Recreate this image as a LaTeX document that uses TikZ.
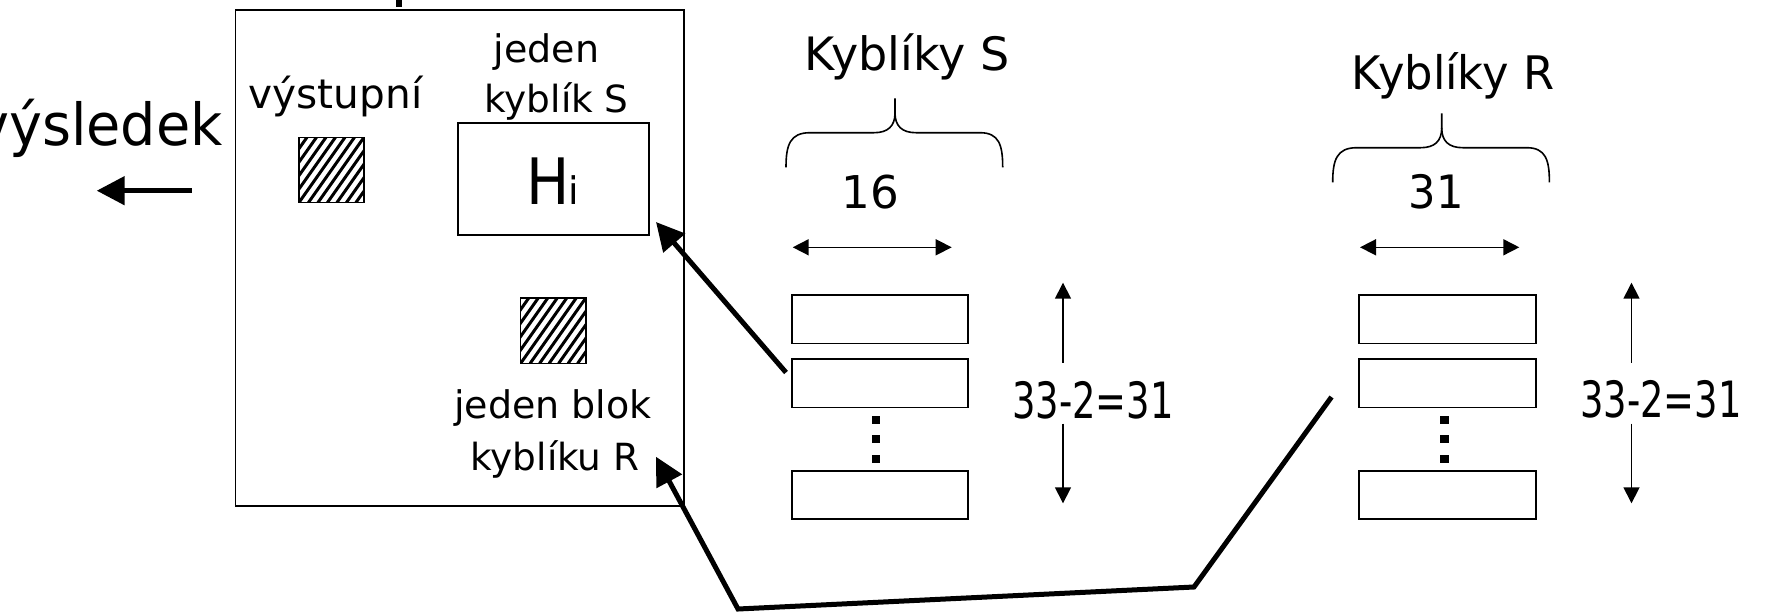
\documentclass[tikz,border=0pt]{standalone}
\usepackage{fontspec}
\setmainfont{DejaVu Sans}
\usepackage{graphicx}
\usetikzlibrary{arrows.meta}
\newcommand\lbl[3]{\fontsize{#1}{#1}\selectfont\scalebox{#2}[1]{#3}}
\tikzset{
  curlybrace/.pic={
    \draw[line width=0.8pt] (0,0) .. controls (0,-22.3) and (4,-34.6) .. (24,-34.6) -- (88,-34.6)
      .. controls (102,-34.6) and (109,-41.3) .. (109,-54.3) -- (109,-69);
    \draw[line width=0.8pt] (109,-54.3) .. controls (109,-41.3) and (116,-34.6) .. (130,-34.6) -- (194,-34.6)
      .. controls (213,-34.6) and (216.7,-22.3) .. (216.7,0);
  }
}
\begin{document}
\begin{tikzpicture}[x=0.5pt,y=-0.5pt,
  box/.style={draw, line width=0.85pt, inner sep=0, rectangle},
  bucket/.style={box, minimum width=88.3pt, minimum height=24.15pt},
  hatchbox/.style={box, minimum width=32.6pt, minimum height=32.6pt,
    path picture={\foreach \k in {-6,...,7}{\draw[line width=1.5pt] ([xshift=\k*4.75pt]path picture bounding box.south west) -- ++(24pt,34pt);}}},
  txt/.style={inner sep=0, anchor=base},
  thin arrow/.style={line width=0.8pt, -{Triangle[length=8pt,width=8pt]}},
  dbl arrow/.style={line width=0.8pt, {Triangle[length=8pt,width=8pt]}-{Triangle[length=8pt,width=8pt]}},
  thick arrow/.style={line width=2.5pt, -{Triangle[length=14pt,width=14pt]}},
  dotsq/.style={fill, inner sep=0, minimum size=4.25pt}
]
\useasboundingbox (0,0) rectangle (1766,611);

% fragment at top
\fill (396,0) rectangle (401.5,7);

% memory box
\node[box, minimum width=224.25pt, minimum height=248pt] (mem) at (459.75,258) {};
\node[box, minimum width=95.8pt, minimum height=56pt] (hib) at (553.5,179) {};
\node[hatchbox] (out) at (331.5,170) {};
\node[hatchbox] (rblk) at (553.2,330.8) {};

% texts in memory box
\node[txt] (tvys) at (335.5,108.5) {\lbl{20.3pt}{1}{výstupní}};
\node[txt] (tjed) at (546.5,62.5) {\lbl{19pt}{1}{jeden}};
\node[txt] (tkyb) at (556.5,112.5) {\lbl{18.7pt}{1}{kyblík S}};
\node[txt, anchor=base west] (thi) at (526,204) {\lbl{32pt}{0.9}{H}\kern-0.7pt{\fontsize{19pt}{19pt}\selectfont i}};
\node[txt] (tjb) at (553,418) {\lbl{19pt}{1}{jeden blok}};
\node[txt] (tkr) at (555,470) {\lbl{18.7pt}{1}{kyblíku R}};

% result
\node[txt, anchor=base east] (tres) at (223,145) {\lbl{29pt}{0.96}{výsledek}};
\coordinate (m0) at (191.7,190.7);
\coordinate (m1) at (96.7,190.7);
\draw[thick arrow] (m0) -- (m1);

% S buckets
\node[txt] (tks) at (907,70) {\lbl{23pt}{1}{Kyblíky S}};
\pic at (786,167.3) {curlybrace};
\node[txt] (t16) at (870,208.3) {\lbl{22.6pt}{1}{16}};
\coordinate (sw0) at (792.7,247.3);
\coordinate (sw1) at (951.7,247.3);
\draw[dbl arrow] (sw0) -- (sw1);
\node[bucket] (s1) at (880,319.2) {};
\node[bucket] (s2) at (880,383.3) {};
\node[bucket] (s3) at (880,495.1) {};
\node[dotsq] (sd1) at (876,420) {};
\node[dotsq] (sd2) at (876,439) {};
\node[dotsq] (sd3) at (876,459) {};
\node[txt] (tsh) at (1093,418) {\lbl{25pt}{0.737}{33-2=31}};
\coordinate (sv0) at (1063,362.7);
\coordinate (sv1) at (1063,282.7);
\coordinate (sv2) at (1063,423.5);
\coordinate (sv3) at (1063,503.3);
\draw[thin arrow] (sv0) -- (sv1);
\draw[thin arrow] (sv2) -- (sv3);

% R buckets
\node[txt] (tkr2) at (1453,89) {\lbl{23.1pt}{0.97}{Kyblíky R}};
\pic at (1332.7,182.3) {curlybrace};
\node[txt] (t31) at (1436,208.3) {\lbl{23pt}{0.94}{31}};
\coordinate (rw0) at (1360,247.3);
\coordinate (rw1) at (1519.3,247.3);
\draw[dbl arrow] (rw0) -- (rw1);
\node[bucket] (r1) at (1447.6,319.2) {};
\node[bucket] (r2) at (1447.6,383.3) {};
\node[bucket] (r3) at (1447.6,495.1) {};
\node[dotsq] (rd1) at (1444.3,420) {};
\node[dotsq] (rd2) at (1444.3,439) {};
\node[dotsq] (rd3) at (1444.3,459) {};
\node[txt] (trh) at (1661,417) {\lbl{25pt}{0.737}{33-2=31}};
\coordinate (rv0) at (1631.5,362.7);
\coordinate (rv1) at (1631.5,282.7);
\coordinate (rv2) at (1631.5,423.5);
\coordinate (rv3) at (1631.5,503.3);
\draw[thin arrow] (rv0) -- (rv1);
\draw[thin arrow] (rv2) -- (rv3);

% thick connectors
\coordinate (a1tail) at (786,372.5);
\coordinate (a1tip) at (656,222);
\draw[thick arrow] (a1tail) -- (a1tip);
\coordinate (p0) at (1331.5,397);
\coordinate (p1) at (1194,587);
\coordinate (p2) at (738,609);
\coordinate (p3) at (656,456.7);
\draw[thick arrow] (p0) -- (p1) -- (p2) -- (p3);
\end{tikzpicture}
\end{document}
